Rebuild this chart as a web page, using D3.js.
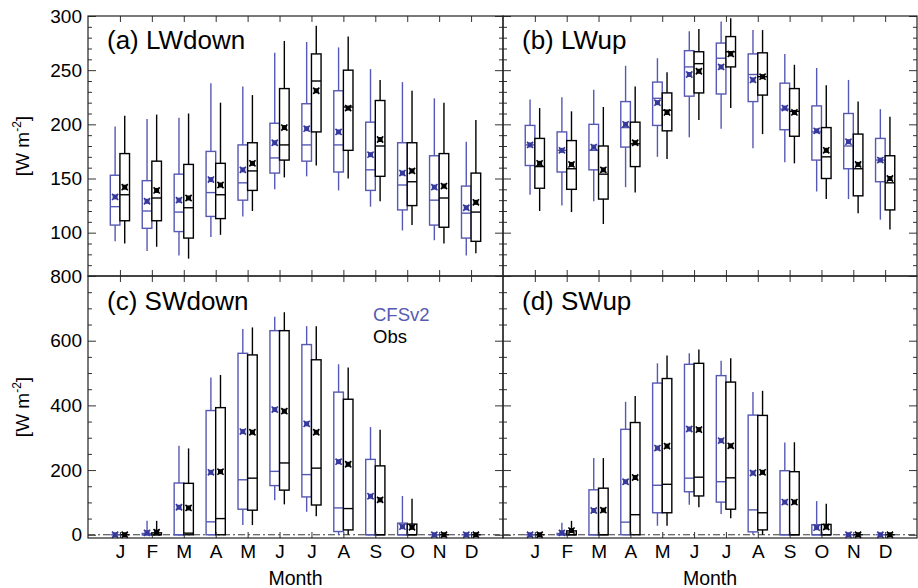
<!DOCTYPE html>
<html>
<head>
<meta charset="utf-8">
<script src="https://cdn.jsdelivr.net/npm/d3@7"></script>
<style>
  html, body { margin: 0; padding: 0; background: #fff; }
  svg text { font-family: "Liberation Sans", Arial, Helvetica, sans-serif; fill: #000; }
</style>
</head>
<body>
<svg id="chart" width="918" height="588"></svg>
<script>
// Month labels along the x axis
const months = ['J', 'F', 'M', 'A', 'M', 'J', 'J', 'A', 'S', 'O', 'N', 'D'];
const seriesNames = ['CFSv2', 'Obs'];
const panelTitles = ['(a) LWdown', '(b) LWup', '(c) SWdown', '(d) SWup'];

// Each row: [whisker low, Q1, median, Q3, whisker high, mean]  (W m-2)
const lwdownCFSv2 = [
  [92, 107, 124, 153, 198, 133], [83, 104, 120, 148, 205, 129], [79, 101, 119, 154, 206, 130],
  [96, 115, 137, 175, 238, 149], [115, 130, 146, 181, 235, 158], [140, 155, 169, 201, 266, 183],
  [152, 166, 181, 219, 276, 196], [139, 156, 181, 231, 271, 193], [124, 139, 158, 202, 251, 172],
  [102, 121, 144, 183, 239, 155], [93, 107, 130, 171, 224, 142], [79, 95, 118, 143, 184, 123]
];
const lwdownObs = [
  [90, 111, 135, 173, 208, 142], [87, 111, 132, 166, 209, 139], [76, 95, 123, 163, 210, 132],
  [98, 113, 135, 164, 220, 144], [120, 139, 157, 183, 227, 164], [151, 167, 181, 233, 277, 197],
  [162, 193, 240, 265, 291, 231], [150, 176, 216, 250, 281, 215], [129, 152, 180, 222, 241, 186],
  [107, 125, 147, 183, 231, 157], [90, 105, 132, 173, 220, 143], [81, 92, 119, 155, 204, 128]
];
const lwupCFSv2 = [
  [135, 162, 181, 199, 223, 181], [125, 156, 176, 193, 225, 176], [129, 158, 176, 200, 232, 179],
  [142, 179, 197, 221, 254, 200], [170, 199, 224, 239, 261, 220], [188, 226, 253, 268, 286, 246],
  [196, 228, 261, 275, 295, 253], [178, 221, 246, 265, 287, 241], [165, 195, 214, 238, 265, 215],
  [138, 167, 193, 217, 252, 194], [131, 159, 180, 210, 241, 184], [112, 147, 167, 187, 214, 167]
];
const lwupObs = [
  [120, 141, 161, 187, 215, 164], [119, 140, 159, 185, 212, 163], [108, 131, 154, 180, 216, 158],
  [137, 161, 182, 202, 235, 183], [168, 194, 213, 229, 248, 211], [204, 229, 256, 267, 288, 249],
  [215, 253, 267, 281, 298, 265], [191, 227, 244, 266, 287, 244], [164, 189, 212, 233, 255, 211],
  [131, 150, 170, 197, 236, 176], [118, 134, 159, 191, 221, 163], [103, 121, 146, 171, 207, 150]
];
const swdownCFSv2 = [
  [0, 0, 0, 0, 0, 0], [0, 0, 0, 4, 43, 6], [0, 0, 0, 160, 275, 85],
  [0, 0, 40, 384, 486, 193], [30, 79, 170, 561, 636, 319], [107, 152, 196, 631, 674, 387],
  [71, 117, 186, 588, 645, 343], [0, 10, 83, 441, 527, 226], [0, 0, 0, 233, 333, 119],
  [0, 0, 0, 36, 120, 25], [0, 0, 0, 0, 0, 0], [0, 0, 0, 0, 0, 0]
];
const swdownObs = [
  [0, 0, 0, 0, 0, 0], [0, 0, 0, 6, 43, 8], [0, 0, 5, 159, 267, 83],
  [0, 0, 50, 393, 494, 195], [30, 76, 175, 556, 641, 317], [94, 138, 222, 631, 688, 382],
  [57, 92, 206, 541, 645, 317], [0, 15, 81, 419, 517, 218], [0, 0, 0, 213, 325, 108],
  [0, 0, 0, 33, 111, 23], [0, 0, 0, 0, 0, 0], [0, 0, 0, 0, 0, 0]
];
const swupCFSv2 = [
  [0, 0, 0, 0, 0, 0], [0, 0, 0, 4, 37, 6], [0, 0, 0, 139, 237, 75],
  [0, 0, 39, 326, 411, 164], [28, 68, 153, 469, 530, 268], [93, 133, 175, 527, 561, 327],
  [64, 101, 164, 492, 538, 291], [0, 9, 77, 370, 441, 191], [0, 0, 0, 198, 285, 101],
  [0, 0, 0, 31, 104, 22], [0, 0, 0, 0, 0, 0], [0, 0, 0, 0, 0, 0]
];
const swupObs = [
  [0, 0, 0, 0, 0, 0], [0, 0, 0, 12, 43, 13], [0, 0, 0, 144, 237, 76],
  [0, 0, 62, 347, 429, 177], [28, 68, 156, 483, 554, 274], [85, 120, 178, 530, 573, 325],
  [51, 79, 176, 472, 546, 275], [0, 15, 68, 369, 445, 193], [0, 0, 0, 195, 286, 101],
  [0, 0, 0, 32, 96, 24], [0, 0, 0, 0, 0, 0], [0, 0, 0, 0, 0, 0]
];

// Axis ticks
const lwTicks = [100, 150, 200, 250, 300];
const lwMinorTicks = d3.range(60, 301, 10);
const swTicks = [0, 200, 400, 600, 800];
const swMinorTicks = d3.range(0, 801, 50);

const colors = { CFSv2: '#5659b3', Obs: '#000000' };
const meanColors = { CFSv2: '#373a9a', Obs: '#000000' };

const svg = d3.select('#chart');

const colX = [[88, 503], [503, 917]];
const rowY = [[16, 276], [276, 538]];

const panels = [
  { title: panelTitles[0], data: [lwdownCFSv2, lwdownObs], col: 0, row: 0 },
  { title: panelTitles[1], data: [lwupCFSv2, lwupObs], col: 1, row: 0 },
  { title: panelTitles[2], data: [swdownCFSv2, swdownObs], col: 0, row: 1 },
  { title: panelTitles[3], data: [swupCFSv2, swupObs], col: 1, row: 1 }
];

panels.forEach(p => {
  const [x0, x1] = colX[p.col];
  const [y0, y1] = rowY[p.row];
  const isLW = p.row === 0;
  const x = d3.scaleLinear().domain([0, 13]).range([x0, x1]);
  const y = d3.scaleLinear().domain(isLW ? [60, 300] : [-10, 800]).range([y1, y0]);
  const majors = isLW ? lwTicks : swTicks;
  const minors = (isLW ? lwMinorTicks : swMinorTicks).filter(v => !majors.includes(v));
  const g = svg.append('g');

  // Zero reference line
  if (!isLW) {
    g.append('line')
      .attr('x1', x0).attr('x2', x1)
      .attr('y1', y(0)).attr('y2', y(0))
      .attr('stroke', '#222').attr('stroke-width', 0.9)
      .attr('stroke-dasharray', '7,3,2,3');
  }

  // Box plots: CFSv2 left of the month tick, Obs right of it
  const bw = 9.6;
  p.data.forEach((rows, si) => {
    const name = seriesNames[si];
    const col = colors[name];
    const sg = g.append('g');
    rows.forEach((r, i) => {
      const [lo, q1, med, q3, hi, mean] = r;
      const xc = x(i + 1);
      const left = si === 0 ? xc - bw : xc;
      const mid = left + bw / 2;
      sg.append('line')
        .attr('x1', mid).attr('x2', mid)
        .attr('y1', y(lo)).attr('y2', y(hi))
        .attr('stroke', col).attr('stroke-width', 1.4);
      sg.append('rect')
        .attr('x', left).attr('width', bw)
        .attr('y', y(q3)).attr('height', Math.max(0, y(q1) - y(q3)))
        .attr('fill', '#fff').attr('stroke', col).attr('stroke-width', 1.4);
      sg.append('line')
        .attr('x1', left).attr('x2', left + bw)
        .attr('y1', y(med)).attr('y2', y(med))
        .attr('stroke', col).attr('stroke-width', 1.4);
      // mean marker
      const mg = sg.append('g').attr('transform', `translate(${mid},${y(mean)})`);
      mg.append('rect').attr('x', -2.5).attr('y', -2.5).attr('width', 5).attr('height', 5)
        .attr('fill', meanColors[name]);
      mg.append('path').attr('d', 'M-3.1,-3.1L3.1,3.1M-3.1,3.1L3.1,-3.1')
        .attr('stroke', meanColors[name]).attr('stroke-width', 1.6);
    });
  });

  // Axes with inward ticks on all four sides
  const monthVals = d3.range(1, 13);
  const bottomAxis = d3.axisBottom(x).tickValues(monthVals).tickSize(-6).tickPadding(7)
    .tickFormat(p.row === 1 ? (d => months[d - 1]) : '');
  const topAxis = d3.axisTop(x).tickValues(monthVals).tickSize(-6).tickFormat('');
  const leftAxis = d3.axisLeft(y).tickValues(majors).tickSize(-8).tickPadding(6)
    .tickFormat(p.col === 0 ? d3.format('d') : '');
  const leftMinor = d3.axisLeft(y).tickValues(minors).tickSize(-4).tickFormat('');
  const rightAxis = d3.axisRight(y).tickValues(majors).tickSize(-8).tickFormat('');
  const rightMinor = d3.axisRight(y).tickValues(minors).tickSize(-4).tickFormat('');

  const axes = [
    [bottomAxis, `translate(0,${y1})`],
    [topAxis, `translate(0,${y0})`],
    [leftAxis, `translate(${x0},0)`],
    [leftMinor, `translate(${x0},0)`],
    [rightAxis, `translate(${x1},0)`],
    [rightMinor, `translate(${x1},0)`]
  ];
  axes.forEach(([ax, tr]) => {
    const a = g.append('g').attr('transform', tr).call(ax);
    a.select('.domain').remove();
    a.selectAll('line').attr('stroke', '#333').attr('stroke-width', 1);
    a.selectAll('text').attr('font-size', 19).attr('fill', '#000');
  });

  // Panel frame
  g.append('rect')
    .attr('x', x0).attr('y', y0).attr('width', x1 - x0).attr('height', y1 - y0)
    .attr('fill', 'none').attr('stroke', '#222').attr('stroke-width', 1.2);

  // Panel title
  g.append('text')
    .attr('x', x0 + 19).attr('y', y0 + (isLW ? 33 : 34))
    .attr('font-size', 26)
    .text(p.title);

  // x-axis title under the lower panels
  if (p.row === 1) {
    g.append('text')
      .attr('x', (x0 + x1) / 2).attr('y', 585)
      .attr('text-anchor', 'middle').attr('font-size', 19.5)
      .text('Month');
  }

  // y-axis title on the left column
  if (p.col === 0) {
    const t = g.append('text')
      .attr('transform', `translate(29,${(y0 + y1) / 2}) rotate(-90)`)
      .attr('text-anchor', 'middle').attr('font-size', 19);
    t.append('tspan').text('[W m');
    t.append('tspan').attr('dy', -8).attr('font-size', 12).text('-2');
    t.append('tspan').attr('dy', 8).text(']');
  }
});

// Legend in panel (c)
svg.append('text').attr('x', 373).attr('y', 321).attr('font-size', 18.5)
  .attr('fill', colors.CFSv2).style('fill', colors.CFSv2).text(seriesNames[0]);
svg.append('text').attr('x', 373).attr('y', 343).attr('font-size', 18.5)
  .text(seriesNames[1]);
</script>
</body>
</html>
